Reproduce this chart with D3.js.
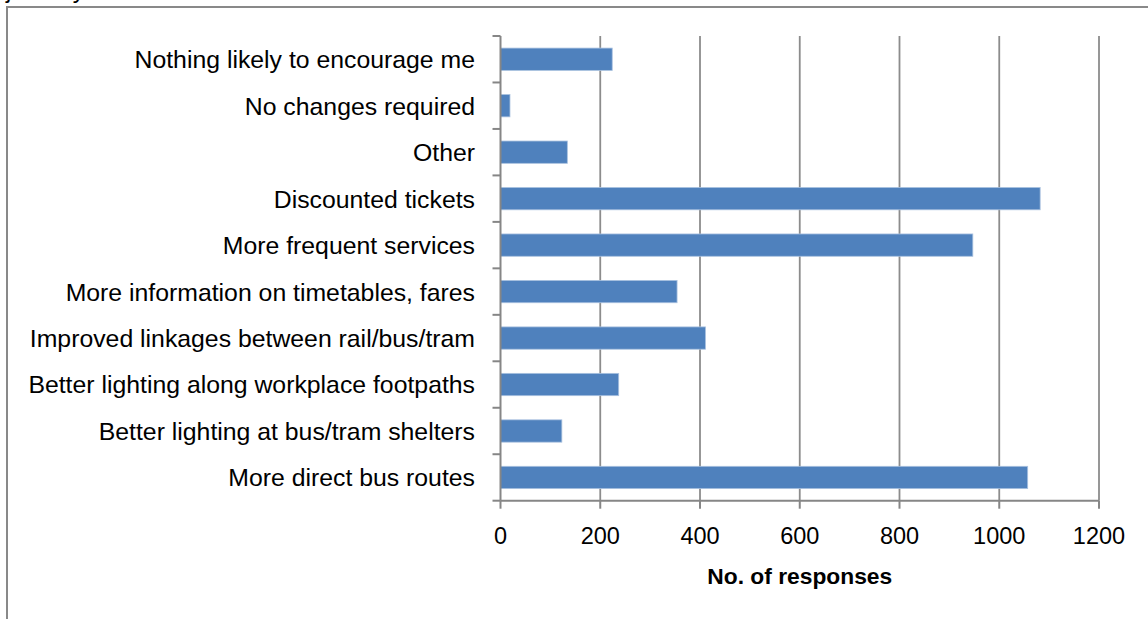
<!DOCTYPE html>
<html>
<head>
<meta charset="utf-8">
<script src="https://cdn.jsdelivr.net/npm/d3@7"></script>
<style>
  body { margin: 0; background: #fff; }
  svg { display: block; font-family: "Liberation Sans", Arial, sans-serif; }
</style>
</head>
<body>
<div id="chart"></div>
<script>
let width = 1148
  , height = 619
  , plotLeft = 500.5
  , plotRight = 1099
  , plotTop = 36
  , plotBottom = 500.7;

// categories, top to bottom as in the chart
let categories = [
  'Nothing likely to encourage me',
  'No changes required',
  'Other',
  'Discounted tickets',
  'More frequent services',
  'More information on timetables, fares',
  'Improved linkages between rail/bus/tram',
  'Better lighting along workplace footpaths',
  'Better lighting at bus/tram shelters',
  'More direct bus routes'
];
let responses = [224, 19, 134, 1082, 947, 354, 411, 237, 123, 1057];
let xTicks = [0, 200, 400, 600, 800, 1000, 1200];
let xTitle = 'No. of responses';

let data = categories.map((c, i) => ({ name: c, value: responses[i] }));

let x = d3.scaleLinear().domain([0, 1200]).range([plotLeft, plotRight]);
let y = d3.scaleBand().domain(categories).range([plotTop, plotBottom])
  .paddingInner(0.52).paddingOuter(0.26);

let svg = d3.select('#chart').append('svg').attr('width', width).attr('height', height);

// cut off caption from the page above
svg.append('text').attr('x', 6).attr('y', -2)
  .attr('font-size', 24).attr('fill', '#000').text('journey');

// chart frame
svg.append('rect').attr('x', 7).attr('y', 7).attr('width', width + 20).attr('height', height + 20)
  .attr('fill', 'none').attr('stroke', '#898989').attr('stroke-width', 2);

// vertical gridlines
svg.append('g').selectAll('line').data(xTicks.slice(1)).enter()
  .append('line')
  .attr('x1', d => x(d)).attr('x2', d => x(d))
  .attr('y1', plotTop).attr('y2', plotBottom)
  .attr('stroke', '#8c8c8c').attr('stroke-width', 1.8);

// bars
svg.append('g').selectAll('rect').data(data).enter()
  .append('rect')
  .attr('x', x(0))
  .attr('y', d => y(d.name))
  .attr('width', d => x(d.value) - x(0))
  .attr('height', y.bandwidth())
  .attr('fill', '#4f81bd')
  .attr('stroke', '#a9c1df').attr('stroke-width', 0.8);

// y axis: line, ticks at band edges, labels
let edges = categories.map(c => y(c) - y.step() * y.paddingInner() / 2).concat([plotBottom]);
let yAxis = svg.append('g');
yAxis.append('line').attr('x1', plotLeft).attr('x2', plotLeft)
  .attr('y1', plotTop).attr('y2', plotBottom)
  .attr('stroke', '#868686').attr('stroke-width', 2);
yAxis.selectAll('line.tick').data(edges).enter()
  .append('line').attr('class', 'tick')
  .attr('x1', plotLeft - 8).attr('x2', plotLeft)
  .attr('y1', d => d).attr('y2', d => d)
  .attr('stroke', '#868686').attr('stroke-width', 2);
yAxis.selectAll('text').data(categories).enter()
  .append('text')
  .attr('x', 475)
  .attr('y', d => y(d) + y.bandwidth() / 2)
  .attr('dy', '0.36em')
  .attr('text-anchor', 'end')
  .attr('font-size', 24.8)
  .attr('fill', '#000')
  .text(d => d);

// x axis
let xAxis = svg.append('g');
xAxis.append('line').attr('x1', plotLeft).attr('x2', plotRight)
  .attr('y1', plotBottom).attr('y2', plotBottom)
  .attr('stroke', '#868686').attr('stroke-width', 2);
xAxis.selectAll('line.tick').data(xTicks).enter()
  .append('line').attr('class', 'tick')
  .attr('x1', d => x(d)).attr('x2', d => x(d))
  .attr('y1', plotBottom).attr('y2', plotBottom + 8)
  .attr('stroke', '#868686').attr('stroke-width', 2);
xAxis.selectAll('text').data(xTicks).enter()
  .append('text')
  .attr('x', d => x(d))
  .attr('y', 543.5)
  .attr('text-anchor', 'middle')
  .attr('font-size', 23.5)
  .attr('fill', '#000')
  .text(d => d);

svg.append('text')
  .attr('x', (plotLeft + plotRight) / 2).attr('y', 583.5)
  .attr('text-anchor', 'middle')
  .attr('font-size', 22.8).attr('font-weight', 'bold')
  .attr('fill', '#000')
  .text(xTitle);
</script>
</body>
</html>
